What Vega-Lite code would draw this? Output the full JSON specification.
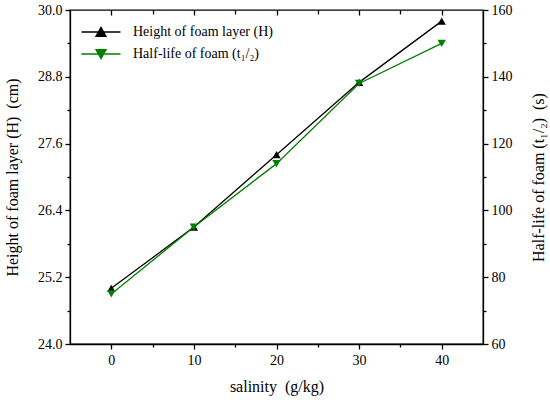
{
  "$schema": "https://vega.github.io/schema/vega-lite/v6.json",
  "width": 413,
  "height": 334,
  "autosize": "none",
  "padding": {"left": 70, "top": 10, "right": 67, "bottom": 56},
  "background": "white",
  "config": {
    "font": "Liberation Serif",
    "view": {"stroke": "black", "strokeWidth": 1.3},
    "axis": {
      "grid": false,
      "domainColor": "black",
      "domainWidth": 1.3,
      "tickColor": "black",
      "tickWidth": 1.3,
      "labelColor": "black",
      "labelFont": "Liberation Serif",
      "titleFont": "Liberation Serif",
      "labelFontSize": 14,
      "titleFontSize": 16,
      "titleFontWeight": "normal",
      "titleColor": "black"
    }
  },
  "data": {
    "values": [
      {"salinity": 0, "H": 25.0, "t": 75},
      {"salinity": 10, "H": 26.1, "t": 95},
      {"salinity": 20, "H": 27.4, "t": 114},
      {"salinity": 30, "H": 28.7, "t": 138},
      {"salinity": 40, "H": 29.8, "t": 150}
    ]
  },
  "layer": [
    {
      "encoding": {
        "x": {
          "field": "salinity",
          "type": "quantitative",
          "scale": {"domain": [-5, 45], "nice": false, "zero": false},
          "axis": {
            "orient": "bottom",
            "title": "salinity\u00a0\u00a0(g/kg)",
            "values": [0, 5, 10, 15, 20, 25, 30, 35, 40],
            "labelExpr": "datum.value % 10 == 0 ? datum.label : ''",
            "tickSize": {"condition": {"test": "datum.value % 10 == 0", "value": 5}, "value": 3},
            "labelPadding": 4,
            "titlePadding": 11
          }
        },
        "y": {
          "field": "H",
          "type": "quantitative",
          "scale": {"domain": [24, 30], "nice": false, "zero": false},
          "axis": {
            "orient": "left",
            "title": "Height of foam layer (H)\u00a0\u00a0(cm)",
            "values": [24.0, 24.6, 25.2, 25.8, 26.4, 27.0, 27.6, 28.2, 28.8, 29.4, 30.0],
            "format": ".1f",
            "labelExpr": "round(datum.value * 10) % 12 == 0 ? datum.label : ''",
            "tickSize": {"condition": {"test": "round(datum.value * 10) % 12 == 0", "value": 5}, "value": 3},
            "labelPadding": 3,
            "titlePadding": 17
          }
        }
      },
      "layer": [
        {
          "mark": {"type": "line", "color": "black", "strokeWidth": 1.3},
          "encoding": {
            "color": {
              "datum": "Height of foam layer (H)",
              "type": "nominal",
              "scale": {"domain": ["Height of foam layer (H)", "Half-life of foam (t₁/₂)"], "range": ["black", "#008000"]},
              "legend": {
                "title": null,
                "orient": "none",
                "legendX": 24,
                "legendY": 15,
                "labelFontSize": 14,
                "labelFont": "Liberation Serif",
                "labelColor": "black",
                "symbolSize": 100,
                "labelOffset": 25,
                "rowPadding": 8,
                "encode": {
                  "symbols": {
                    "update": {
                      "shape": {"signal": "datum.value == 'Height of foam layer (H)' ? 'M-3.9,0H3.9M-1,0.85L0,-0.95L1,0.85Z' : 'M-3.9,0H3.9M-1,-0.85L0,0.95L1,-0.85Z'"},
                      "fill": {"signal": "datum.value == 'Height of foam layer (H)' ? 'black' : '#008000'"},
                      "stroke": {"signal": "datum.value == 'Height of foam layer (H)' ? 'black' : '#008000'"},
                      "strokeWidth": {"value": 1.3},
                      "opacity": {"value": 1},
                      "fillOpacity": {"value": 1}
                    }
                  }
                }
              }
            }
          }
        },
        {
          "mark": {"type": "point", "shape": "triangle-up", "filled": true, "color": "black", "opacity": 1, "size": 70}
        }
      ]
    },
    {
      "encoding": {
        "x": {
          "field": "salinity",
          "type": "quantitative",
          "scale": {"domain": [-5, 45], "nice": false, "zero": false},
          "axis": {
            "orient": "top",
            "title": null,
            "labels": false,
            "domain": false,
            "values": [0, 5, 10, 15, 20, 25, 30, 35, 40],
            "tickSize": {"condition": {"test": "datum.value % 10 == 0", "value": -5}, "value": -4}
          }
        },
        "y": {
          "field": "t",
          "type": "quantitative",
          "scale": {"domain": [60, 160], "nice": false, "zero": false},
          "axis": {
            "orient": "right",
            "title": "Half-life of foam (t₁/₂)\u00a0\u00a0(s)",
            "titleAngle": 270,
            "titleBaseline": "top",
            "values": [60, 70, 80, 90, 100, 110, 120, 130, 140, 150, 160],
            "labelExpr": "datum.value % 20 == 0 ? datum.label : ''",
            "tickSize": {"condition": {"test": "datum.value % 20 == 0", "value": 5}, "value": 3},
            "labelPadding": 3,
            "titlePadding": 18
          }
        }
      },
      "layer": [
        {
          "mark": {"type": "line", "color": "#008000", "strokeWidth": 1.3},
          "encoding": {
            "color": {"datum": "Half-life of foam (t₁/₂)", "type": "nominal"}
          }
        },
        {
          "mark": {"type": "point", "shape": "triangle-down", "filled": true, "color": "#008000", "opacity": 1, "size": 70}
        }
      ]
    }
  ],
  "resolve": {"scale": {"y": "independent"}, "axis": {"x": "independent"}}
}
